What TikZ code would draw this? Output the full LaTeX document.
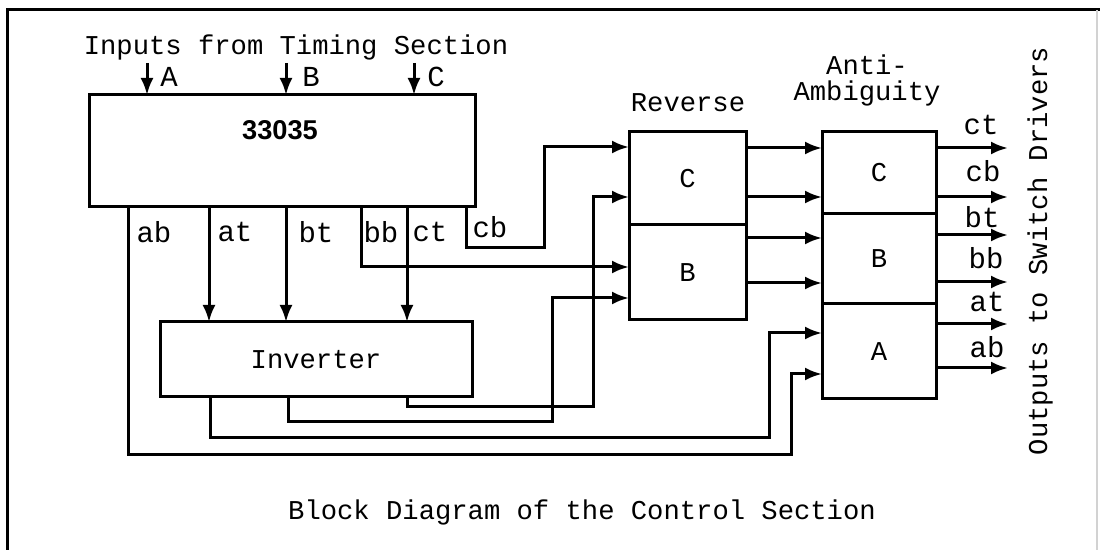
\documentclass[tikz,border=0pt]{standalone}
\usepackage{fontspec}
\newfontfamily\monof{Liberation Mono}
\newfontfamily\arialf{Liberation Sans}
\usetikzlibrary{arrows.meta}
\begin{document}
\begin{tikzpicture}[x=0.5pt,y=-0.5pt,
  ln/.style={line width=1.5pt},
  arr/.style={line width=1.5pt,-{Latex[length=8.5pt,width=6.5pt]}},
  blk/.style={draw,line width=1.5pt,inner sep=0pt,outer sep=0pt,anchor=center,font=\monof\fontsize{13.6}{13}\selectfont},
  txt/.style={inner sep=0pt,font=\monof\fontsize{13.6}{13}\selectfont},
  sig/.style={inner sep=0pt,font=\monof\fontsize{14.5}{14}\selectfont}]
\useasboundingbox (0,0) rectangle (1100,550);
% frame
\draw[line width=1.5pt] (7,552) -- (7,10) -- (1102,10);
\draw[gray!35,line width=0.6pt] (1097,10) -- (1097,552);
% blocks
\node[blk,minimum width=193pt,minimum height=56pt] (main) at (282,151) {};
\node[inner sep=0pt,font=\arialf\bfseries\fontsize{13.6}{14}\selectfont] (mainlbl) at (280,130) {33035};
\node[blk,minimum width=156pt,minimum height=37.5pt] (inv) at (316,359.5) {Inverter};
\node[blk,minimum width=58.5pt,minimum height=46.5pt] (revC) at (687.5,178.5) {C};
\node[blk,minimum width=58.5pt,minimum height=47.5pt] (revB) at (687.5,272.5) {B};
\node[blk,minimum width=57pt,minimum height=41pt] (antC) at (879,173) {C};
\node[blk,minimum width=57pt,minimum height=45pt] (antB) at (879,259) {B};
\node[blk,minimum width=57pt,minimum height=47.5pt] (antA) at (879,351.5) {A};
% titles
\node[txt] (tin) at (296,47) {Inputs from Timing Section};
\node[txt] (trev) at (688,103) {Reverse};
\node[txt,align=center] (tanti) at (867,80) {Anti-\\Ambiguity};
\node[txt,rotate=90] (tout) at (1040,251) {Outputs to Switch Drivers};
\node[txt] (tcap) at (582,512) {Block Diagram of the Control Section};
% inputs
\coordinate (inA) at (147,63);
\coordinate (inB) at (286,63);
\coordinate (inC) at (414,63);
\draw[arr] (inA) -- (inA |- main.north);
\draw[arr] (inB) -- (inB |- main.north);
\draw[arr] (inC) -- (inC |- main.north);
\node[sig] (lA) at (169,77) {A};
\node[sig] (lB) at (311,77) {B};
\node[sig] (lC) at (436,77) {C};
% output labels of 33035
\node[sig] (lab) at (154,232) {ab};
\node[sig] (lat) at (235,232) {at};
\node[sig] (lbt) at (316,232) {bt};
\node[sig] (lbb) at (381,232) {bb};
\node[sig] (lct) at (430,232) {ct};
\node[sig] (lcb) at (490,227) {cb};
% 33035 -> inverter
\draw[arr] (main.south -| 209,0) -- (inv.north -| 209,0);
\draw[arr] (main.south -| 286,0) -- (inv.north -| 286,0);
\draw[arr] (main.south -| 407,0) -- (inv.north -| 407,0);
% 33035 -> reverse
\draw[arr] (main.south -| 466,0) -- (466,248) -- (544,248) -- (544,147) -- (revC.west |- 0,147);
\draw[arr] (main.south -| 361,0) -- (361,267) -- (revB.west |- 0,267);
% inverter -> reverse
\draw[arr] (inv.south -| 407,0) -- (407,407) -- (593,407) -- (593,197) -- (revC.west |- 0,197);
\draw[arr] (inv.south -| 288,0) -- (288,422) -- (552,422) -- (552,298) -- (revB.west |- 0,298);
% to anti-ambiguity A
\draw[arr] (inv.south -| 210,0) -- (210,438) -- (769,438) -- (769,333) -- (antA.west |- 0,333);
\draw[arr] (main.south -| 128,0) -- (128,455) -- (791,455) -- (791,374) -- (antA.west |- 0,374);
% reverse -> anti
\draw[arr] (revC.east |- 0,148) -- (antC.west |- 0,148);
\draw[arr] (revC.east |- 0,197) -- (antC.west |- 0,197);
\draw[arr] (revB.east |- 0,238) -- (antB.west |- 0,238);
\draw[arr] (revB.east |- 0,283) -- (antB.west |- 0,283);
% outputs
\coordinate (o1) at (1008,148);
\coordinate (o2) at (1008,197);
\coordinate (o3) at (1008,235);
\coordinate (o4) at (1008,282);
\coordinate (o5) at (1008,324);
\coordinate (o6) at (1008,368);
\draw[arr] (antC.east |- o1) -- (o1);
\draw[arr] (antC.east |- o2) -- (o2);
\draw[arr] (antB.east |- o3) -- (o3);
\draw[arr] (antB.east |- o4) -- (o4);
\draw[arr] (antA.east |- o5) -- (o5);
\draw[arr] (antA.east |- o6) -- (o6);
\node[sig] (oct) at (981,125) {ct};
\node[sig] (ocb) at (983,171) {cb};
\node[sig] (obt) at (982,217) {bt};
\node[sig] (obb) at (986,258) {bb};
\node[sig] (oat) at (987,302) {at};
\node[sig] (oab) at (987,347) {ab};
\end{tikzpicture}
\end{document}
